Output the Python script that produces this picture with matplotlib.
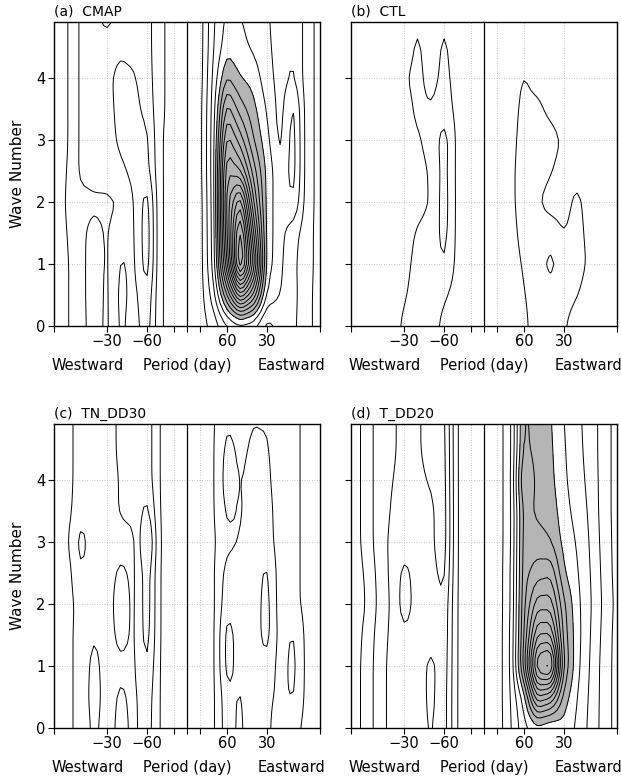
import numpy as np
import matplotlib
matplotlib.use('Agg')
import matplotlib.pyplot as plt

# frequency index (k/180 cpd, negative = westward) and zonal wave number
freq = np.arange(-10, 11)
wavenum = np.arange(0, 5.01, 0.5)

# power, rows = wave number 0, 0.5, ... 5
# columns = frequency index -10 ... 10 (contour interval 1, shade >= 5)
cmap_power = [
    [0.5, 0.9, 1.7, 2.4, 1.8, 3.2, 2.6, 3.5, 1.1, 0.6, 0.5, 0.5, 1.3, 2.6, 3.0, 2.8, 1.5, 2.2, 2.2, 1.3, 0.6],
    [0.5, 0.9, 1.7, 2.5, 1.8, 3.3, 2.7, 3.8, 1.1, 0.6, 0.5, 0.5, 2.6, 7.0, 12.0, 9.0, 3.8, 3.0, 2.3, 1.3, 0.6],
    [0.5, 0.9, 1.7, 2.5, 1.85, 3.1, 2.8, 4.6, 1.1, 0.6, 0.5, 0.5, 3.3, 11.0, 20.0, 13.0, 4.6, 3.2, 2.2, 1.4, 0.6],
    [0.5, 1.0, 1.8, 2.3, 1.9, 2.7, 2.9, 4.7, 1.1, 0.6, 0.5, 0.5, 3.4, 12.0, 19.0, 11.0, 4.6, 3.3, 2.4, 1.4, 0.6],
    [0.5, 1.1, 1.7, 1.8, 1.8, 2.0, 3.0, 4.5, 1.1, 0.6, 0.5, 0.5, 3.5, 12.5, 16.0, 9.0, 4.6, 3.3, 4.0, 1.5, 0.6],
    [0.5, 1.0, 2.2, 2.4, 2.5, 2.8, 3.3, 3.4, 1.1, 0.6, 0.5, 0.6, 3.6, 12.0, 11.0, 7.5, 4.7, 3.2, 4.5, 1.5, 0.6],
    [0.5, 0.9, 2.2, 2.4, 2.6, 3.2, 3.4, 3.2, 1.1, 0.6, 0.5, 0.6, 3.6, 10.5, 8.5, 6.0, 4.3, 2.7, 4.5, 1.5, 0.6],
    [0.5, 0.9, 2.2, 2.4, 2.7, 3.3, 3.3, 2.7, 1.2, 0.6, 0.5, 0.6, 3.5, 8.5, 6.5, 5.3, 3.9, 2.6, 4.3, 1.5, 0.6],
    [0.5, 0.9, 2.2, 2.4, 2.8, 3.3, 3.1, 2.5, 1.2, 0.6, 0.5, 0.5, 3.3, 6.0, 5.0, 4.6, 3.4, 2.6, 3.1, 1.5, 0.6],
    [0.5, 0.9, 2.2, 2.4, 2.6, 2.8, 2.7, 2.4, 1.2, 0.6, 0.5, 0.5, 3.0, 4.6, 4.3, 3.8, 3.2, 2.6, 3.1, 1.5, 0.6],
    [0.5, 0.9, 2.2, 2.4, 1.5, 2.6, 2.6, 2.4, 1.2, 0.6, 0.5, 0.5, 2.9, 4.2, 4.0, 3.6, 3.1, 2.6, 3.1, 1.5, 0.6],
]

ctl_power = [
    [0.5, 0.5, 0.5, 0.5, 1.2, 1.4, 1.3, 0.8, 0.5, 0.4, 0.4, 0.5, 0.5, 0.8, 1.4, 1.4, 1.1, 0.5, 0.5, 0.5, 0.5],
    [0.5, 0.5, 0.5, 0.5, 0.9, 1.4, 1.4, 1.1, 0.6, 0.4, 0.4, 0.5, 0.5, 0.95, 1.4, 1.4, 1.4, 1.05, 0.5, 0.5, 0.5],
    [0.5, 0.5, 0.5, 0.5, 0.7, 1.3, 1.4, 2.0, 0.7, 0.4, 0.4, 0.5, 0.6, 1.1, 1.5, 2.4, 1.4, 1.4, 0.8, 0.5, 0.5],
    [0.5, 0.5, 0.5, 0.5, 0.6, 1.1, 1.3, 2.4, 0.7, 0.4, 0.4, 0.5, 0.7, 1.3, 1.4, 1.4, 1.0, 1.3, 0.7, 0.5, 0.5],
    [0.5, 0.5, 0.5, 0.5, 0.5, 0.7, 1.05, 2.5, 0.7, 0.4, 0.4, 0.5, 0.8, 1.4, 1.05, 0.7, 0.7, 1.2, 0.6, 0.5, 0.5],
    [0.5, 0.5, 0.5, 0.5, 0.5, 0.7, 1.1, 2.4, 0.7, 0.4, 0.4, 0.5, 0.8, 1.4, 1.4, 1.05, 0.7, 0.7, 0.5, 0.5, 0.5],
    [0.5, 0.5, 0.5, 0.5, 0.6, 0.9, 1.3, 2.5, 0.7, 0.4, 0.4, 0.5, 0.75, 1.3, 1.3, 1.3, 0.9, 0.5, 0.5, 0.5, 0.5],
    [0.5, 0.5, 0.5, 0.5, 0.6, 1.2, 1.1, 1.5, 0.7, 0.4, 0.4, 0.5, 0.7, 1.2, 1.2, 0.8, 0.5, 0.5, 0.5, 0.5, 0.5],
    [0.5, 0.5, 0.5, 0.5, 0.9, 1.3, 0.6, 1.3, 0.6, 0.4, 0.4, 0.5, 0.6, 1.05, 0.7, 0.5, 0.5, 0.5, 0.5, 0.5, 0.5],
    [0.5, 0.5, 0.5, 0.5, 0.5, 1.15, 0.5, 1.15, 0.5, 0.4, 0.4, 0.5, 0.5, 0.6, 0.5, 0.5, 0.5, 0.5, 0.5, 0.5, 0.5],
    [0.5, 0.5, 0.5, 0.5, 0.5, 0.85, 0.5, 0.85, 0.5, 0.4, 0.4, 0.5, 0.5, 0.5, 0.5, 0.5, 0.5, 0.5, 0.5, 0.5, 0.5],
]

tn_dd30_power = [
    [0.5, 0.7, 1.4, 2.2, 1.6, 2.3, 1.8, 2.5, 0.9, 0.5, 0.5, 0.6, 0.8, 2.6, 3.2, 2.3, 2.2, 1.5, 1.3, 0.7, 0.5],
    [0.5, 0.7, 1.4, 2.4, 1.6, 2.15, 1.8, 2.6, 0.9, 0.5, 0.5, 0.6, 0.8, 2.7, 3.1, 2.4, 2.2, 1.8, 2.1, 0.7, 0.5],
    [0.5, 0.7, 1.4, 2.3, 1.6, 1.8, 1.85, 3.0, 0.9, 0.5, 0.5, 0.6, 0.8, 3.4, 2.6, 2.5, 2.7, 1.6, 2.3, 0.7, 0.5],
    [0.5, 0.7, 1.4, 1.95, 1.6, 2.3, 1.85, 3.5, 0.9, 0.5, 0.5, 0.6, 0.8, 3.4, 2.6, 2.5, 3.4, 1.6, 2.1, 0.7, 0.5],
    [0.5, 0.6, 1.4, 1.5, 1.6, 2.5, 1.8, 3.6, 0.9, 0.5, 0.5, 0.6, 0.8, 2.7, 2.6, 2.5, 3.4, 1.5, 1.3, 0.7, 0.5],
    [0.5, 0.6, 1.9, 1.5, 1.6, 2.2, 1.8, 3.6, 0.9, 0.5, 0.5, 0.6, 0.85, 2.4, 2.5, 2.5, 3.2, 1.5, 1.3, 0.7, 0.5],
    [0.5, 0.85, 2.4, 1.5, 1.5, 1.6, 1.8, 4.5, 0.9, 0.5, 0.5, 0.6, 0.85, 1.7, 2.05, 2.5, 2.5, 1.5, 1.3, 0.7, 0.5],
    [0.5, 0.7, 1.6, 1.5, 1.5, 2.1, 2.3, 3.3, 0.9, 0.5, 0.5, 0.6, 0.9, 2.2, 1.9, 2.4, 2.4, 1.5, 1.3, 0.7, 0.5],
    [0.5, 0.7, 1.4, 1.5, 1.5, 2.1, 2.3, 2.6, 0.9, 0.5, 0.5, 0.6, 0.9, 2.5, 1.95, 2.3, 2.2, 1.5, 1.3, 0.7, 0.5],
    [0.5, 0.7, 1.4, 1.5, 1.6, 2.2, 2.3, 2.6, 0.9, 0.5, 0.5, 0.6, 0.9, 2.3, 1.8, 2.15, 2.1, 1.5, 1.3, 0.7, 0.5],
    [0.5, 0.7, 1.4, 1.5, 1.6, 2.2, 2.3, 2.6, 0.9, 0.5, 0.5, 0.6, 0.9, 1.8, 1.7, 1.95, 1.9, 1.5, 1.3, 0.7, 0.5],
]

t_dd20_power = [
    [0.5, 1.2, 2.4, 3.3, 3.5, 3.6, 4.1, 3.5, 0.9, 0.4, 0.4, 0.4, 1.9, 3.6, 4.2, 3.8, 4.6, 3.8, 2.7, 1.6, 0.6],
    [0.5, 1.2, 2.4, 3.3, 3.5, 3.6, 4.2, 3.5, 0.9, 0.4, 0.4, 0.4, 2.0, 4.4, 10.0, 9.0, 5.6, 4.0, 2.8, 1.6, 0.6],
    [0.5, 1.2, 2.4, 3.3, 3.6, 3.6, 4.2, 3.6, 0.9, 0.4, 0.4, 0.4, 2.0, 7.5, 15.2, 16.3, 7.0, 4.3, 2.9, 1.6, 0.6],
    [0.5, 1.1, 2.3, 3.2, 3.8, 3.6, 3.7, 3.7, 0.9, 0.4, 0.4, 0.4, 2.0, 7.0, 12.0, 12.0, 6.6, 4.4, 3.0, 1.7, 0.6],
    [0.5, 0.9, 2.1, 3.1, 4.5, 3.6, 3.7, 3.8, 0.9, 0.4, 0.4, 0.4, 1.9, 6.8, 9.5, 9.5, 6.2, 4.3, 3.1, 1.8, 0.7],
    [0.5, 1.0, 2.2, 3.2, 4.3, 3.6, 3.7, 4.3, 0.9, 0.4, 0.4, 0.4, 1.9, 6.6, 7.5, 7.8, 5.1, 4.1, 3.0, 1.7, 0.6],
    [0.5, 1.2, 2.4, 3.2, 3.5, 3.6, 3.8, 4.6, 0.9, 0.4, 0.4, 0.4, 1.8, 6.5, 6.4, 6.0, 4.7, 3.9, 2.9, 1.6, 0.6],
    [0.5, 1.2, 2.4, 3.05, 3.4, 3.7, 3.8, 4.6, 0.9, 0.4, 0.4, 0.4, 1.8, 6.4, 5.8, 5.6, 4.4, 3.6, 2.8, 1.5, 0.6],
    [0.5, 1.2, 2.4, 2.95, 3.3, 3.8, 4.1, 4.5, 0.9, 0.4, 0.4, 0.4, 1.8, 7.3, 5.7, 5.3, 4.2, 3.4, 2.7, 1.5, 0.6],
    [0.5, 1.2, 2.4, 2.8, 3.3, 3.9, 4.3, 4.4, 0.9, 0.4, 0.4, 0.4, 1.8, 6.3, 5.6, 5.2, 4.1, 3.3, 2.6, 1.5, 0.6],
    [0.5, 1.2, 2.4, 2.8, 3.3, 3.9, 4.3, 4.3, 0.9, 0.4, 0.4, 0.4, 1.8, 6.2, 5.6, 5.1, 4.0, 3.2, 2.6, 1.5, 0.6],
]

titles = ['(a)  CMAP', '(b)  CTL', '(c)  TN_DD30', '(d)  T_DD20']
fields = [cmap_power, ctl_power, tn_dd30_power, t_dd20_power]

xtick_pos = [-10, -6, -3, -1, 0, 1, 3, 6, 10]
xtick_lab = ['', '\u221230', '\u221260', '', '', '', '60', '30', '']
grid_x = [-6, -3, -1, 1, 3, 6]
ytick_pos = [0, 1, 2, 3, 4]

levels = np.arange(1, 26)
shade_level = 5


def smooth_for_drawing(z):
    # bilinear onto a finer mesh, then a light [1,2,1] blur to round corners
    xf = np.arange(-10, 10.001, 0.25)
    yf = np.arange(0, 5.001, 0.125)
    zx = np.array([np.interp(xf, freq, row) for row in z])
    zf = np.array([np.interp(yf, wavenum, col) for col in zx.T]).T
    p = np.pad(zf, 1, mode='edge')
    zf = 0.25 * p[1:-1, :-2] + 0.5 * p[1:-1, 1:-1] + 0.25 * p[1:-1, 2:]
    for _ in range(2):
        p = np.pad(zf, 1, mode='edge')
        zf = 0.25 * p[:-2, 1:-1] + 0.5 * p[1:-1, 1:-1] + 0.25 * p[2:, 1:-1]
    return xf, yf, zf


fig = plt.figure(figsize=(6.21, 7.79), dpi=100)
W, H = 621.0, 779.0
boxes = [(54, 22), (351, 22), (54, 424), (351, 424)]  # left, top in px
aw, ah = 266, 304

for i, (title, z) in enumerate(zip(titles, fields)):
    left, top = boxes[i]
    ax = fig.add_axes([left / W, 1 - (top + ah) / H, aw / W, ah / H])

    for gx in grid_x:
        ax.axvline(gx, color='#b8b8b8', lw=0.6, ls=(0, (1, 2)), zorder=0)
    for gy in ytick_pos[1:]:
        ax.axhline(gy, color='#b8b8b8', lw=0.6, ls=(0, (1, 2)), zorder=0)

    xf, yf, zf = smooth_for_drawing(np.array(z))
    ax.contourf(xf, yf, zf, levels=[shade_level, 100], colors=['#b4b4b4'], zorder=1)
    ax.contour(xf, yf, zf, levels=levels, colors='k', linewidths=0.7, zorder=2)
    ax.axvline(0, color='k', lw=0.9, zorder=3)

    ax.set_xlim(-10, 10)
    ax.set_ylim(0, 4.9)
    ax.set_xticks(xtick_pos)
    ax.set_xticklabels(xtick_lab, fontsize=10.5)
    ax.set_yticks(ytick_pos)
    if i % 2 == 0:
        ax.set_yticklabels([str(v) for v in ytick_pos], fontsize=10.5)
        ax.set_ylabel('Wave Number', fontsize=11, labelpad=8)
    else:
        ax.set_yticklabels([])
    ax.tick_params(direction='out', length=4, width=0.8, pad=2)
    for s in ax.spines.values():
        s.set_linewidth(1.0)

    ax.text(0.0, 1.01, title, transform=ax.transAxes, fontsize=10, ha='left', va='bottom')
    ax.text(-0.01, -0.13, 'Westward', transform=ax.transAxes, fontsize=10.5, ha='left', va='center')
    ax.text(0.5, -0.13, 'Period (day)', transform=ax.transAxes, fontsize=10.5, ha='center', va='center')
    ax.text(1.02, -0.13, 'Eastward', transform=ax.transAxes, fontsize=10.5, ha='right', va='center')

fig.savefig('out.png', dpi=100)
